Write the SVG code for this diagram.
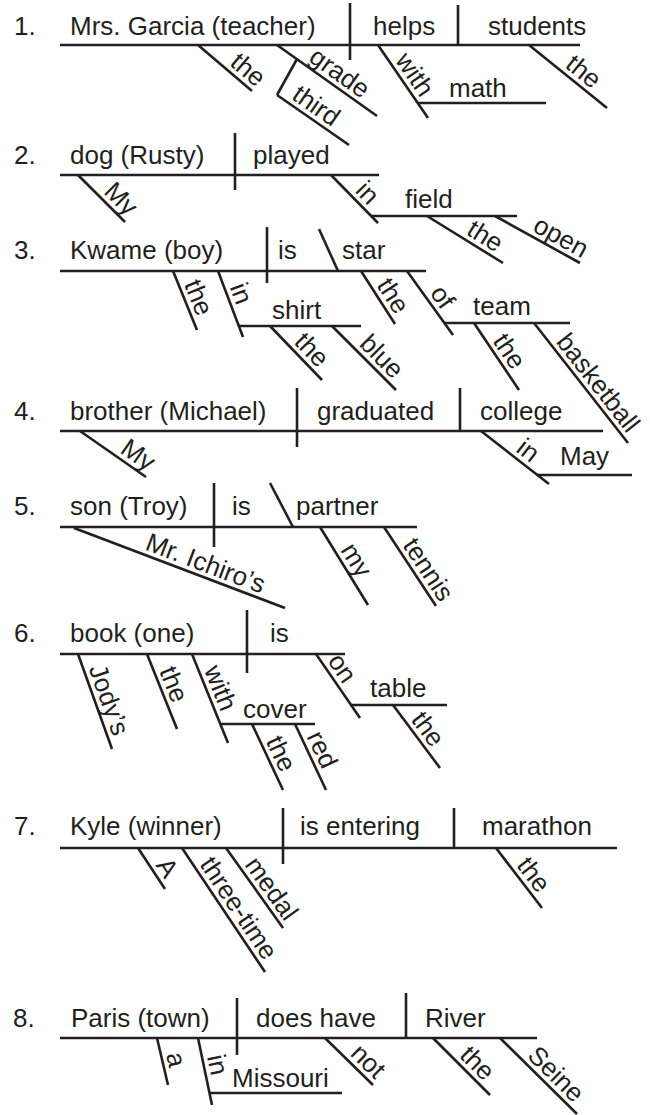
<svg xmlns="http://www.w3.org/2000/svg" width="650" height="1115" viewBox="0 0 650 1115">
<style>
line{stroke:#231f20;stroke-width:2.6;stroke-linecap:butt}
text{font-family:"Liberation Sans",Arial,Helvetica,sans-serif;font-size:26px;fill:#231f20}
</style>
<rect width="650" height="1115" fill="#fff"/>
<g id="connectors">
<!-- S1 -->
<line x1="60" y1="45" x2="580" y2="45"/>
<line x1="350" y1="3" x2="350" y2="60"/>
<line x1="458" y1="5" x2="458" y2="45"/>
<line x1="198" y1="45" x2="252" y2="91"/>
<line x1="277" y1="45" x2="377" y2="116"/>
<line x1="297" y1="59" x2="277" y2="95"/>
<line x1="277" y1="95" x2="349" y2="145"/>
<line x1="378" y1="45" x2="428" y2="118"/>
<line x1="418" y1="103" x2="546" y2="103"/>
<line x1="529" y1="45" x2="607" y2="108"/>
<!-- S2 -->
<line x1="60" y1="175" x2="379" y2="175"/>
<line x1="235" y1="133" x2="235" y2="190"/>
<line x1="78" y1="175" x2="125" y2="222"/>
<line x1="331" y1="175" x2="378" y2="223"/>
<line x1="371" y1="216" x2="517" y2="216"/>
<line x1="427" y1="216" x2="503" y2="263"/>
<line x1="495" y1="216" x2="580" y2="263"/>
<!-- S3 -->
<line x1="60" y1="271" x2="426" y2="271"/>
<line x1="267" y1="227" x2="267" y2="283"/>
<line x1="319" y1="229" x2="338" y2="271"/>
<line x1="173" y1="271" x2="197" y2="330"/>
<line x1="218" y1="271" x2="243" y2="337"/>
<line x1="239" y1="326" x2="361" y2="326"/>
<line x1="270" y1="326" x2="322" y2="380"/>
<line x1="332" y1="326" x2="396" y2="390"/>
<line x1="361" y1="271" x2="395" y2="324"/>
<line x1="407" y1="271" x2="453" y2="335"/>
<line x1="444" y1="323" x2="570" y2="323"/>
<line x1="474" y1="323" x2="519" y2="390"/>
<line x1="534" y1="323" x2="628" y2="443"/>
<!-- S4 -->
<line x1="60" y1="431" x2="603" y2="431"/>
<line x1="297" y1="388" x2="297" y2="447"/>
<line x1="460" y1="388" x2="460" y2="431"/>
<line x1="80" y1="431" x2="146" y2="477"/>
<line x1="481" y1="431" x2="549" y2="484"/>
<line x1="537" y1="475" x2="632" y2="475"/>
<!-- S5 -->
<line x1="60" y1="527" x2="417" y2="527"/>
<line x1="214" y1="483" x2="214" y2="547"/>
<line x1="270" y1="483" x2="293" y2="527"/>
<line x1="74" y1="528" x2="285" y2="608"/>
<line x1="320" y1="527" x2="368" y2="605"/>
<line x1="384" y1="527" x2="436" y2="606"/>
<!-- S6 -->
<line x1="60" y1="654" x2="345" y2="654"/>
<line x1="247" y1="610" x2="247" y2="673"/>
<line x1="78" y1="654" x2="112" y2="749"/>
<line x1="147" y1="654" x2="177" y2="729"/>
<line x1="192" y1="654" x2="228" y2="743"/>
<line x1="220" y1="724" x2="315" y2="724"/>
<line x1="252" y1="724" x2="283" y2="790"/>
<line x1="295" y1="724" x2="326" y2="790"/>
<line x1="316" y1="654" x2="360" y2="718"/>
<line x1="350" y1="705" x2="447" y2="705"/>
<line x1="393" y1="705" x2="440" y2="768"/>
<!-- S7 -->
<line x1="60" y1="848" x2="617" y2="848"/>
<line x1="283" y1="808" x2="283" y2="864"/>
<line x1="454" y1="808" x2="454" y2="848"/>
<line x1="138" y1="848" x2="165" y2="889"/>
<line x1="182" y1="848" x2="265" y2="972"/>
<line x1="226" y1="848" x2="283" y2="928"/>
<line x1="496" y1="848" x2="542" y2="908"/>
<!-- S8 -->
<line x1="60" y1="1038" x2="537" y2="1038"/>
<line x1="237" y1="998" x2="237" y2="1055"/>
<line x1="406" y1="993" x2="406" y2="1038"/>
<line x1="157" y1="1038" x2="168" y2="1085"/>
<line x1="198" y1="1038" x2="212" y2="1105"/>
<line x1="209" y1="1093" x2="342" y2="1093"/>
<line x1="325" y1="1038" x2="373" y2="1085"/>
<line x1="433" y1="1038" x2="490" y2="1095"/>
<line x1="500" y1="1038" x2="577" y2="1114"/>
</g>
<g id="s1">
<g id="n1"><text x="14" y="35">1.</text></g>
<g id="s1-subject"><text x="70" y="35">Mrs. Garcia (teacher)</text></g>
<g id="s1-verb"><text x="373" y="35">helps</text></g>
<g id="s1-object"><text x="488" y="35">students</text></g>
<g id="s1-the1"><text transform="translate(198 45) rotate(40.42)" x="36" y="-5">the</text></g>
<g id="s1-grade"><text transform="translate(277 45) rotate(35.37)" x="34" y="-5">grade</text></g>
<g id="s1-third"><text transform="translate(277 95) rotate(34.78)" x="13" y="-5">third</text></g>
<g id="s1-with"><text transform="translate(378 45) rotate(55.59)" x="22" y="-5">with</text></g>
<g id="s1-math"><text x="449" y="97">math</text></g>
<g id="s1-the2"><text transform="translate(529 45) rotate(38.93)" x="41" y="-5">the</text></g>
</g>
<g id="s2">
<g id="n2"><text x="14" y="164">2.</text></g>
<g id="s2-subject"><text x="70" y="164">dog (Rusty)</text></g>
<g id="s2-verb"><text x="253" y="164">played</text></g>
<g id="s2-my"><text transform="translate(78 175) rotate(45)" x="30" y="-5">My</text></g>
<g id="s2-in"><text transform="translate(331 175) rotate(45.6)" x="28" y="-5">in</text></g>
<g id="s2-field"><text x="405" y="208">field</text></g>
<g id="s2-the"><text transform="translate(427 216) rotate(31.73)" x="42" y="-5">the</text></g>
<g id="s2-open"><text transform="translate(495 216) rotate(28.94)" x="39" y="-5">open</text></g>
</g>
<g id="s3">
<g id="n3"><text x="14" y="259">3.</text></g>
<g id="s3-subject"><text x="70" y="259">Kwame (boy)</text></g>
<g id="s3-verb"><text x="278" y="259">is</text></g>
<g id="s3-star"><text x="342" y="259">star</text></g>
<g id="s3-the1"><text transform="translate(173 271) rotate(67.86)" x="16" y="-5">the</text></g>
<g id="s3-in"><text transform="translate(218 271) rotate(69.25)" x="19" y="-5">in</text></g>
<g id="s3-shirt"><text x="272" y="319">shirt</text></g>
<g id="s3-the2"><text transform="translate(270 326) rotate(46.08)" x="28" y="-5">the</text></g>
<g id="s3-blue"><text transform="translate(332 326) rotate(45)" x="32" y="-5">blue</text></g>
<g id="s3-the3"><text transform="translate(361 271) rotate(57.32)" x="20" y="-5">the</text></g>
<g id="s3-of"><text transform="translate(407 271) rotate(54.29)" x="31" y="-5">of</text></g>
<g id="s3-team"><text x="473" y="315">team</text></g>
<g id="s3-the4"><text transform="translate(474 323) rotate(56.1)" x="25" y="-5">the</text></g>
<g id="s3-basketball"><text transform="translate(534 323) rotate(51.93)" x="28" y="-5">basketball</text></g>
</g>
<g id="s4">
<g id="n4"><text x="14" y="420">4.</text></g>
<g id="s4-subject"><text x="70" y="420">brother (Michael)</text></g>
<g id="s4-verb"><text x="317" y="420">graduated</text></g>
<g id="s4-object"><text x="480" y="420">college</text></g>
<g id="s4-my"><text transform="translate(80 431) rotate(34.88)" x="44" y="-5">My</text></g>
<g id="s4-in"><text transform="translate(481 431) rotate(37.93)" x="39" y="-5">in</text></g>
<g id="s4-may"><text x="560" y="465">May</text></g>
</g>
<g id="s5">
<g id="n5"><text x="14" y="515">5.</text></g>
<g id="s5-subject"><text x="70" y="515">son (Troy)</text></g>
<g id="s5-verb"><text x="232" y="515">is</text></g>
<g id="s5-partner"><text x="296" y="515">partner</text></g>
<g id="s5-ichiro"><text transform="translate(74 528) rotate(20.77)" x="73" y="-5">Mr. Ichiro’s</text></g>
<g id="s5-my"><text transform="translate(320 527) rotate(58.39)" x="30" y="-5">my</text></g>
<g id="s5-tennis"><text transform="translate(384 527) rotate(56.65)" x="25" y="-5">tennis</text></g>
</g>
<g id="s6">
<g id="n6"><text x="14" y="642">6.</text></g>
<g id="s6-subject"><text x="70" y="642">book (one)</text></g>
<g id="s6-verb"><text x="270" y="642">is</text></g>
<g id="s6-jodys"><text transform="translate(78 654) rotate(70.3)" x="17" y="-5">Jody’s</text></g>
<g id="s6-the1"><text transform="translate(147 654) rotate(68.2)" x="20" y="-5">the</text></g>
<g id="s6-with"><text transform="translate(192 654) rotate(67.97)" x="19" y="-5">with</text></g>
<g id="s6-cover"><text x="243" y="718">cover</text></g>
<g id="s6-the2"><text transform="translate(252 724) rotate(64.84)" x="21" y="-5">the</text></g>
<g id="s6-red"><text transform="translate(295 724) rotate(64.8)" x="16" y="-5">red</text></g>
<g id="s6-on"><text transform="translate(316 654) rotate(55.5)" x="12" y="-5">on</text></g>
<g id="s6-table"><text x="370" y="697">table</text></g>
<g id="s6-the3"><text transform="translate(393 705) rotate(53.3)" x="22" y="-5">the</text></g>
</g>
<g id="s7">
<g id="n7"><text x="14" y="835">7.</text></g>
<g id="s7-subject"><text x="70" y="835">Kyle (winner)</text></g>
<g id="s7-verb"><text x="300" y="835">is entering</text></g>
<g id="s7-object"><text x="482" y="835">marathon</text></g>
<g id="s7-a"><text transform="translate(138 848) rotate(56.64)" x="24" y="-5">A</text></g>
<g id="s7-threetime"><text transform="translate(182 848) rotate(56.2)" x="23" y="-5">three-time</text></g>
<g id="s7-medal"><text transform="translate(226 848) rotate(54.53)" x="24" y="-5">medal</text></g>
<g id="s7-the"><text transform="translate(496 848) rotate(52.52)" x="26" y="-5">the</text></g>
</g>
<g id="s8">
<g id="n8"><text x="13" y="1027">8.</text></g>
<g id="s8-subject"><text x="71" y="1027">Paris (town)</text></g>
<g id="s8-verb"><text x="256" y="1027">does have</text></g>
<g id="s8-object"><text x="425" y="1027">River</text></g>
<g id="s8-a"><text transform="translate(157 1038) rotate(76.83)" x="18" y="-5">a</text></g>
<g id="s8-in"><text transform="translate(198 1038) rotate(78.2)" x="20" y="-5">in</text></g>
<g id="s8-missouri"><text x="232" y="1087">Missouri</text></g>
<g id="s8-not"><text transform="translate(325 1038) rotate(44.4)" x="29" y="-5">not</text></g>
<g id="s8-the"><text transform="translate(433 1038) rotate(45)" x="31" y="-5">the</text></g>
<g id="s8-seine"><text transform="translate(500 1038) rotate(44.6)" x="32" y="-5">Seine</text></g>
</g>
</svg>
